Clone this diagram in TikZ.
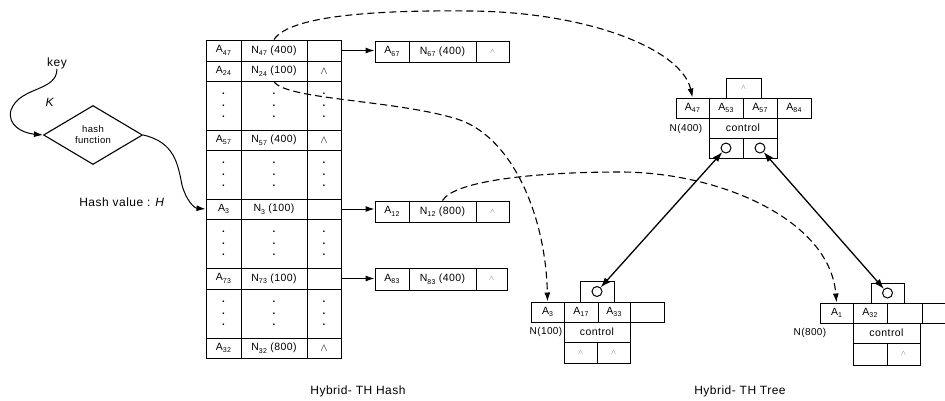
\documentclass[tikz,border=0pt]{standalone}
\usepackage{fontspec}
\setmainfont{Liberation Sans}
\newfontfamily\wide[LetterSpace=4]{Liberation Sans}
\usetikzlibrary{arrows.meta,shapes.geometric}
\newcommand\sbs[1]{\raisebox{-0.45ex}{\fontsize{7}{7}\selectfont #1}}
\newcommand\cel[6]{\node[cell,minimum width={#3-#2},minimum height={#5-#4}] (#1) at ({(#2+#3)/2},{(#4+#5)/2}) {#6};}
\newcommand\dcel[5]{\node[cell,font=\fontsize{10}{10}\selectfont\bfseries,minimum width={#3-#2},minimum height={#5-#4}] (#1) at ({(#2+#3)/2},{(#4+#5)/2}) {.\\[1.5pt].\\[1.5pt].};}
\newcommand\nul{{\fontsize{11}{11}\selectfont$\wedge$}}
\newcommand\fnt{{\color{black!55}\scriptsize$\wedge$}}
\begin{document}
\begin{tikzpicture}[x=1pt,y=-1pt,
  cell/.style={draw,line width=1pt,inner sep=0pt,align=center,font=\wide\fontsize{10.5}{11}\selectfont},
  arr/.style={line width=1pt,-{Latex[length=9pt,width=6pt]}},
  darr/.style={line width=1.1pt,dash pattern=on 7pt off 4pt,-{Latex[length=9pt,width=6pt]}},
  dbl/.style={line width=1.3pt,{Latex[length=10pt,width=7pt]}-{Latex[length=10pt,width=7pt]}},
  lbl/.style={font=\wide\fontsize{10}{11}\selectfont,inner sep=0pt},
  captxt/.style={font=\wide\fontsize{12}{14}\selectfont,inner sep=0pt},
  circ/.style={circle,draw,line width=1pt,minimum size=10pt,inner sep=0pt}]
\clip (0,0) rectangle (945,400);
\fill[white] (0,0) rectangle (945,400);
% key and hash function
\node[captxt] (key) at (57,63) {key};
\node[captxt] (klab) at (50,102) {\textit{K}};
\node[draw,diamond,line width=1.1pt,minimum width=99pt,minimum height=59pt,inner sep=0pt,align=center,font=\wide\fontsize{9.5}{11}\selectfont] (dia) at (93,135) {hash\\function};
\node[captxt] (hv) at (122,202) {Hash value : \textit{H}};
% hash table
\cel{h1a}{206}{241}{40}{61}{A\sbs{47}}
\cel{h1b}{241}{307}{40}{61}{N\sbs{47} (400)}
\cel{h1c}{307}{341}{40}{61}{}
\cel{h2a}{206}{241}{61}{81}{A\sbs{24}}
\cel{h2b}{241}{307}{61}{81}{N\sbs{24} (100)}
\cel{h2c}{307}{341}{61}{81}{\nul}
\dcel{h3a}{206}{241}{81}{130}
\dcel{h3b}{241}{307}{81}{130}
\dcel{h3c}{307}{341}{81}{130}
\cel{h4a}{206}{241}{130}{150}{A\sbs{57}}
\cel{h4b}{241}{307}{130}{150}{N\sbs{57} (400)}
\cel{h4c}{307}{341}{130}{150}{\nul}
\dcel{h5a}{206}{241}{150}{199}
\dcel{h5b}{241}{307}{150}{199}
\dcel{h5c}{307}{341}{150}{199}
\cel{h6a}{206}{241}{199}{219}{A\sbs{3}}
\cel{h6b}{241}{307}{199}{219}{N\sbs{3} (100)}
\cel{h6c}{307}{341}{199}{219}{}
\dcel{h7a}{206}{241}{219}{268}
\dcel{h7b}{241}{307}{219}{268}
\dcel{h7c}{307}{341}{219}{268}
\cel{h8a}{206}{241}{268}{289}{A\sbs{73}}
\cel{h8b}{241}{307}{268}{289}{N\sbs{73} (100)}
\cel{h8c}{307}{341}{268}{289}{}
\dcel{h9a}{206}{241}{289}{338}
\dcel{h9b}{241}{307}{289}{338}
\dcel{h9c}{307}{341}{289}{338}
\cel{h10a}{206}{241}{338}{358}{A\sbs{32}}
\cel{h10b}{241}{307}{338}{358}{N\sbs{32} (800)}
\cel{h10c}{307}{341}{338}{358}{\nul}
% overflow entries
\cel{o1a}{375}{409}{41}{62}{A\sbs{67}}
\cel{o1b}{409}{476}{41}{62}{N\sbs{67} (400)}
\cel{o1c}{476}{509}{41}{62}{\fnt}
\cel{o2a}{375}{409}{201}{222}{A\sbs{12}}
\cel{o2b}{409}{476}{201}{222}{N\sbs{12} (800)}
\cel{o2c}{476}{509}{201}{222}{\fnt}
\cel{o3a}{375}{409}{268}{290}{A\sbs{83}}
\cel{o3b}{409}{476}{268}{290}{N\sbs{83} (400)}
\cel{o3c}{476}{507}{268}{290}{\fnt}
% tree node N(400)
\cel{t4t}{726}{761}{78}{98}{\fnt}
\cel{t4a}{676}{709}{98}{118}{A\sbs{47}}
\cel{t4b}{709}{743}{98}{118}{A\sbs{53}}
\cel{t4c}{743}{777}{98}{118}{A\sbs{57}}
\cel{t4d}{777}{811}{98}{118}{A\sbs{84}}
\cel{t4k}{709}{777}{118}{138}{control}
\cel{t4p}{709}{743}{138}{158}{}
\cel{t4q}{743}{777}{138}{158}{}
\node[circ] (c4a) at (t4p) {};
\node[circ] (c4b) at (t4q) {};
\node[lbl] (n400) at (686,129) {N(400)};
% tree node N(100)
\cel{t1t}{580}{614}{281}{302}{}
\cel{t1a}{531}{564}{302}{322}{A\sbs{3}}
\cel{t1b}{564}{598}{302}{322}{A\sbs{17}}
\cel{t1c}{598}{630}{302}{322}{A\sbs{33}}
\cel{t1d}{630}{664}{302}{322}{}
\cel{t1k}{564}{630}{322}{342}{control}
\cel{t1p}{564}{597}{342}{363}{\fnt}
\cel{t1q}{597}{630}{342}{363}{\fnt}
\node[circ] (c1) at (t1t) {};
\node[lbl] (n100) at (546,332) {N(100)};
% tree node N(800)
\cel{t8t}{871}{904}{283}{303}{}
\cel{t8a}{820}{853}{303}{323}{A\sbs{1}}
\cel{t8b}{853}{887}{303}{323}{A\sbs{32}}
\cel{t8c}{887}{922}{303}{323}{}
\cel{t8d}{922}{956}{303}{323}{}
\cel{t8k}{853}{920}{323}{343}{control}
\cel{t8p}{853}{887}{343}{365}{}
\cel{t8q}{887}{920}{343}{365}{\fnt}
\node[circ] (c8) at (t8t) {};
\node[lbl] (n800) at (810,333) {N(800)};
% captions
\node[captxt] (cap1) at (358,391) {Hybrid- TH Hash};
\node[captxt] (cap2) at (740,391) {Hybrid- TH Tree};
% solid connectors
\draw[arr] (key.south) .. controls (57,92) and (20,86) .. (11,110) .. controls (7,125) and (22,133) .. (dia.west);
\draw[arr] (dia.east) .. controls (175,142) and (178,165) .. (182,185) .. controls (186,200) and (194,208) .. (h6a.west);
\draw[arr] (h1c.east) -- (h1c.east -| o1a.west);
\draw[arr] (h6c.east) -- (h6c.east -| o2a.west);
\draw[arr] (h8c.east) -- (h8c.east -| o3a.west);
\draw[dbl] (c4a) -- (c1);
\draw[dbl] (c4b) -- (c8);
% dashed pointers
\draw[darr] (h1b.north) .. controls (290,15) and (380,10) .. (470,11) .. controls (590,12) and (682,50) .. (t4a.north);
\draw[darr] (h2b.south) .. controls (285,100) and (400,100) .. (460,120) .. controls (515,140) and (546,220) .. (t1a.north);
\draw[darr] (o2b.north) .. controls (455,180) and (540,172) .. (620,172) .. controls (720,172) and (830,220) .. (t8a.north);
\end{tikzpicture}
\end{document}
